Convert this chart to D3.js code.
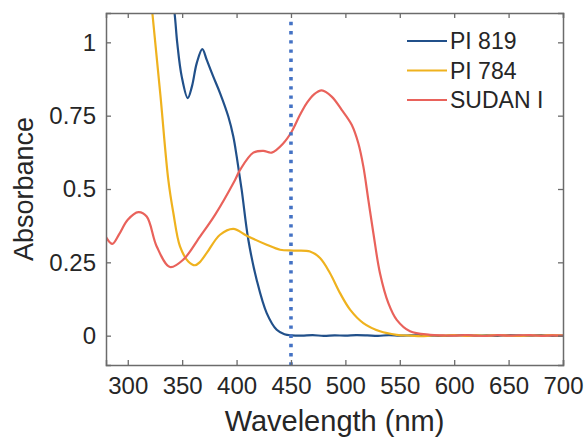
<!DOCTYPE html>
<html>
<head>
<meta charset="utf-8">
<script src="https://cdn.jsdelivr.net/npm/d3@7"></script>
<style>
    body { margin: 0; background: white; }
    text { font-family: "Liberation Sans", Arial, sans-serif; fill: #262626; }
</style>
</head>
<body>
<div id="graphique"></div>
<script>
// donnees
const xTicks = [300, 350, 400, 450, 500, 550, 600, 650, 700];
const yTicks = [0, 0.25, 0.5, 0.75, 1];
const yTickLabels = ["0", "0.25", "0.5", "0.75", "1"];
const noms = ["PI 819", "PI 784", "SUDAN I"];
const couleurs = ["#21508a", "#efb21e", "#e9625b"];
const lambdaMarque = 450;

const wl819 = [336, 343, 345.5, 349.6, 355.1, 359, 363.4, 368.5, 372.6, 378.6, 384.8, 392.4, 397, 400.1, 404.7,
    410.8, 418.5, 427.7, 436.9, 444, 450.7, 460, 470, 480, 490, 500, 510, 520, 530, 540, 550, 560, 570, 580,
    590, 600, 610, 620, 630, 640, 650, 660, 670, 680, 690, 700];
const abs819 = [1.3, 1.1, 0.997, 0.883, 0.81, 0.85, 0.929, 0.977, 0.94, 0.883, 0.827, 0.747, 0.679, 0.611, 0.497,
    0.327, 0.19, 0.077, 0.02, 0.005, 0.001, 0.0, 0.002, -0.001, 0.001, 0.0, 0.002, 0.001, -0.001, 0.002, 0.0, 0.001,
    0.002, 0.0, -0.001, 0.001, 0.002, 0.0, 0.001, -0.001, 0.002, 0.001, 0.0, 0.002, -0.001, 0.0];

const wl784 = [318, 322.6, 330, 337.3, 341.9, 348, 355.6, 361.8, 366, 372.6, 384.8, 397, 409.3, 427.7, 440,
    452.2, 467.5, 476.7, 485.9, 495.1, 504.3, 516.5, 531.8, 547.2, 560, 570, 580, 590, 600, 610, 620, 630, 640,
    650, 660, 670, 680, 690, 700];
const abs784 = [1.3, 1.1, 0.82, 0.53, 0.418, 0.304, 0.253, 0.24, 0.25, 0.282, 0.344, 0.364, 0.341, 0.31, 0.293,
    0.29, 0.287, 0.265, 0.213, 0.145, 0.089, 0.043, 0.015, 0.003, 0.0, -0.002, 0.001, 0.0, 0.002, -0.001, 0.001,
    0.0, 0.002, 0.0, -0.001, 0.001, 0.0, 0.002, 0.0];

const wlSudan = [280, 285.8, 292, 300, 309.7, 317.4, 326.6, 338.8, 351, 366.4, 380.2, 398.6, 403.2, 415.4,
    424.6, 432.3, 443, 450.7, 458.3, 464.5, 471, 478.3, 487.4, 496.6, 505.8, 511.9, 516.5, 521.1, 525.7, 531.8,
    539.5, 547.2, 559.4, 577.8, 590, 600, 610, 620, 630, 640, 650, 660, 670, 680, 690, 700];
const absSudan = [0.336, 0.313, 0.345, 0.395, 0.421, 0.406, 0.304, 0.234, 0.259, 0.338, 0.412, 0.531, 0.565,
    0.624, 0.63, 0.624, 0.656, 0.696, 0.753, 0.793, 0.822, 0.836, 0.815, 0.77, 0.719, 0.656, 0.577, 0.463, 0.35,
    0.213, 0.111, 0.054, 0.015, 0.003, 0.001, 0.0, 0.002, 0.0, -0.001, 0.002, 0.0, 0.001, 0.002, -0.001, 0.001, 0.0];

const largeur = 588, hauteur = 445;
const marge = { gauche: 106, droite: 25, haut: 13, bas: 80 };

const svg = d3
    .select("#graphique")
    .append("svg")
    .attr("width", largeur)
    .attr("height", hauteur);

const x = d3.scaleLinear()
    .domain([280, 700])
    .range([marge.gauche, largeur - marge.droite]);
const y = d3.scaleLinear()
    .domain([-0.1, 1.1])
    .range([hauteur - marge.bas, marge.haut]);

svg.append("clipPath")
    .attr("id", "cadre")
    .append("rect")
    .attr("x", x(280))
    .attr("y", y(1.1))
    .attr("width", x(700) - x(280))
    .attr("height", y(-0.1) - y(1.1));

const series = [
    wl819.map((w, i) => [w, abs819[i]]),
    wl784.map((w, i) => [w, abs784[i]]),
    wlSudan.map((w, i) => [w, absSudan[i]])
];

const ligne = d3.line()
    .x(d => x(d[0]))
    .y(d => y(d[1]))
    .curve(d3.curveCatmullRom.alpha(0.5));

const courbes = svg.append("g").attr("clip-path", "url(#cadre)");
series.forEach(function (s, i) {
    courbes.append("path")
        .datum(s)
        .attr("d", ligne)
        .attr("fill", "none")
        .attr("stroke", couleurs[i])
        .attr("stroke-width", 2.2);
});

// ligne pointillee a 450 nm
courbes.append("line")
    .attr("x1", x(lambdaMarque))
    .attr("x2", x(lambdaMarque))
    .attr("y1", y(1.07))
    .attr("y2", y(-0.1))
    .attr("stroke", "#4472c4")
    .attr("stroke-width", 3.6)
    .attr("stroke-dasharray", "3.4,5.8");

// axes avec graduations vers l'interieur
const gris = "#6b6b6b";
const axeBas = svg.append("g")
    .attr("transform", "translate(0," + y(-0.1) + ")")
    .call(d3.axisBottom(x).tickValues(xTicks).tickSize(-5).tickPadding(12));
const axeHaut = svg.append("g")
    .attr("transform", "translate(0," + y(1.1) + ")")
    .call(d3.axisTop(x).tickValues(xTicks).tickSize(-5).tickFormat(""));
const axeGauche = svg.append("g")
    .attr("transform", "translate(" + x(280) + ",0)")
    .call(d3.axisLeft(y).tickValues(yTicks).tickSize(-5).tickPadding(10)
        .tickFormat((d, i) => yTickLabels[i]));
const axeDroite = svg.append("g")
    .attr("transform", "translate(" + x(700) + ",0)")
    .call(d3.axisRight(y).tickValues(yTicks).tickSize(-5).tickFormat(""));

[axeBas, axeHaut, axeGauche, axeDroite].forEach(function (a) {
    a.select(".domain").attr("stroke", gris).attr("stroke-width", 1.5);
    a.selectAll(".tick line").attr("stroke", gris).attr("stroke-width", 1.3);
    a.selectAll(".tick text")
        .attr("fill", "#262626")
        .style("font-size", "24px")
        .style("font-family", "'Liberation Sans', Arial, sans-serif");
});

svg.append("text")
    .attr("x", (x(280) + x(700)) / 2)
    .attr("y", 431)
    .attr("text-anchor", "middle")
    .style("font-size", "29px")
    .text("Wavelength (nm)");

svg.append("text")
    .attr("transform", "translate(33," + (y(-0.1) + y(1.1)) / 2 + ") rotate(-90)")
    .attr("text-anchor", "middle")
    .style("font-size", "27px")
    .text("Absorbance");

// legende
const legende = svg.append("g");
noms.forEach(function (nom, i) {
    const yl = 41 + i * 29.5;
    legende.append("line")
        .attr("x1", 407)
        .attr("x2", 447)
        .attr("y1", yl)
        .attr("y2", yl)
        .attr("stroke", couleurs[i])
        .attr("stroke-width", 2.2);
    legende.append("text")
        .attr("x", 450)
        .attr("y", yl + 8)
        .style("font-size", "23px")
        .text(nom);
});
</script>
</body>
</html>
